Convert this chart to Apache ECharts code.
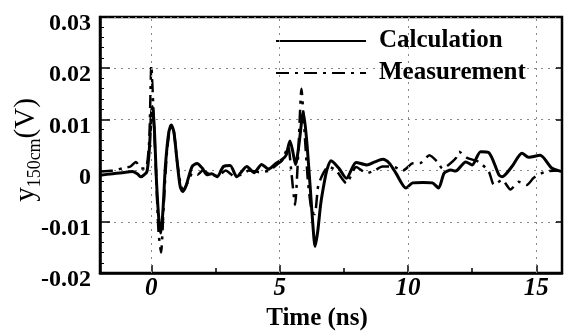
<!DOCTYPE html>
<html>
<head>
<meta charset="utf-8">
<script src="https://cdn.jsdelivr.net/npm/echarts@6/dist/echarts.min.js"></script>
<style>
  html, body { margin: 0; padding: 0; background: #fff; }
  #chart { width: 572px; height: 331px; }
</style>
</head>
<body>
<div id="chart"></div>
<script>
// Calculation (solid)
const calcTime = [-2.0, -1.5, -1.0, -0.75, -0.55, -0.42, -0.3, -0.17, -0.08, 0.0, 0.05, 0.12, 0.2, 0.3, 0.37, 0.45, 0.55, 0.68, 0.78, 0.88,
  1.0, 1.12, 1.22, 1.35, 1.59, 1.78, 1.98, 2.17, 2.35, 2.56, 2.81, 3.07, 3.33, 3.72, 4.0, 4.3, 4.56, 4.88, 5.1, 5.25,
  5.4, 5.5, 5.62, 5.75, 5.92, 6.05, 6.2, 6.3, 6.38, 6.48, 6.6, 6.75, 6.85, 7.0, 7.3, 7.6, 7.98, 8.4, 8.7, 9.02,
  9.28, 9.53, 9.92, 10.18, 10.6, 10.95, 11.19, 11.41, 11.67, 11.85, 12.25, 12.5, 12.83, 13.15, 13.54, 13.67, 14.05, 14.44, 14.7, 15.15,
  15.6, 16.0];
const calcValue = [-0.0009, -0.0006, -0.0003, -0.0002, -0.0006, -0.0012, -0.0009, -0.0002, 0.004, 0.011, 0.0125, 0.008, -0.002, -0.010, -0.0122, -0.008, 0.001, 0.0075, 0.0089, 0.0075,
  0.002, -0.003, -0.0041, -0.003, 0.0008, 0.0014, 0.0005, -0.0008, -0.0006, -0.0012, 0.0008, 0.001, -0.0012, 0.0008, -0.0004, 0.0012, 0.0003, 0.0015, 0.0022, 0.003,
  0.0058, 0.004, 0.0012, 0.005, 0.0115, 0.006, -0.004, -0.011, -0.0148, -0.012, -0.0065, -0.002, 0.0003, 0.0019, 0.0005, -0.0015, 0.0016, 0.0011, 0.0017, 0.0022,
  0.0014, -0.0005, -0.0034, -0.0024, -0.0023, -0.0024, -0.0034, -0.0005, 0.0001, -0.0001, 0.0017, 0.0011, 0.0037, 0.0035, -0.0008, -0.0012, 0.0008, 0.0034, 0.0026, 0.003,
  0.0005, -0.0002];

// Measurement (dash-dot)
const measTime = [-2.0, -1.5, -1.0, -0.81, -0.6, -0.4, -0.2, -0.08, 0.0, 0.08, 0.18, 0.28, 0.38, 0.48, 0.6, 0.75, 0.88, 1.0, 1.15, 1.25,
  1.4, 1.6, 1.8, 2.0, 2.3, 2.6, 2.9, 3.2, 3.5, 3.8, 4.2, 4.6, 4.9, 5.1, 5.33, 5.45, 5.53, 5.6, 5.72, 5.85,
  5.95, 6.1, 6.25, 6.37, 6.5, 6.7, 6.9, 7.2, 7.6, 7.98, 8.4, 8.7, 9.0, 9.4, 9.8, 10.17, 10.5, 10.83, 11.15, 11.34,
  11.6, 11.86, 11.99, 12.3, 12.76, 13.15, 13.35, 13.67, 13.99, 14.31, 14.63, 14.9, 15.35, 15.87];
const measValue = [-0.0002, 0.0, 0.0006, 0.0008, 0.0017, 0.0004, 0.0005, 0.006, 0.0205, 0.012, 0.0, -0.012, -0.016, -0.007, 0.003, 0.0088, 0.0075, 0.002, -0.003, -0.0038,
  -0.0025, -0.0005, -0.0008, 0.0, -0.0008, -0.001, 0.0, -0.001, -0.0008, 0.0, -0.0003, 0.0, 0.0012, 0.002, 0.0047, 0.0, -0.004, -0.0067, 0.003, 0.016,
  0.009, -0.002, -0.008, -0.0085, -0.003, -0.0005, 0.0008, 0.0, -0.0025, 0.0007, -0.0005, 0.0, 0.0008, 0.0008, 0.0, 0.0014, 0.0015, 0.003, 0.0017, 0.0004,
  0.0012, 0.0024, 0.0037, 0.0025, 0.0017, -0.0002, -0.0028, -0.0018, -0.0037, -0.0022, -0.0028, -0.0014, -0.0002, 0.0];

const xMajor = [0, 5, 10, 15];
const xMinor = [2.5, 7.5, 12.5];
const seriesNames = ['Calculation', 'Measurement'];

const serif = '"Liberation Serif", "Times New Roman", serif';
const zip = (a, b) => a.map((t, i) => [t, b[i]]);

const chart = echarts.init(document.getElementById('chart'), null, { renderer: 'canvas' });

const gridLine = { type: [2, 5], color: '#888', width: 1 };

chart.setOption({
  backgroundColor: '#fff',
  animation: false,
  grid: {
    left: 100, right: 10, top: 17, bottom: 58,
    outerBoundsMode: 'none', containLabel: false,
    show: true, borderColor: '#000', borderWidth: 2.5
  },
  legend: {
    orient: 'vertical', left: 270, top: 23, itemGap: 6,
    itemWidth: 90, itemHeight: 14,
    lineStyle: { width: 2 },
    itemStyle: { opacity: 0 },
    textStyle: { fontFamily: serif, fontWeight: 'bold', fontSize: 25, color: '#000', padding: [0, 0, 0, 8], lineHeight: 26 },
    data: seriesNames
  },
  xAxis: [{
    type: 'value', min: -2, max: 16,
    name: 'Time (ns)', nameLocation: 'middle', nameGap: 33,
    nameTextStyle: { fontFamily: serif, fontWeight: 'bold', fontSize: 25, color: '#000', padding: [0, 28, 0, 0] },
    axisLine: { onZero: false, lineStyle: { color: '#000', width: 2.5 } },
    axisTick: { inside: true, length: 8, customValues: xMajor, lineStyle: { color: '#000', width: 1.5 } },
    axisLabel: { customValues: xMajor, margin: 3, fontFamily: serif, fontWeight: 'bold', fontStyle: 'italic', fontSize: 25, color: '#000' },
    splitLine: { show: false }
  }, {
    type: 'value', min: -2, max: 16, position: 'bottom',
    axisLine: { show: false, onZero: false },
    axisTick: { inside: true, length: 5, customValues: xMinor, lineStyle: { color: '#000', width: 1.5 } },
    axisLabel: { show: false },
    splitLine: { show: false }
  }],
  yAxis: [{
    type: 'value', min: -0.02, max: 0.03, interval: 0.01,
    name: '{y|y}{s|150cm}{y|(V)}', nameLocation: 'middle', nameGap: 56, nameRotate: 90,
    nameMoveOverlap: false,
    nameTextStyle: {
      padding: [0, 10, 0, 0],
      rich: {
        y: { fontFamily: serif, fontSize: 29, color: '#000', lineHeight: 32, verticalAlign: 'top' },
        s: { fontFamily: serif, fontSize: 18, color: '#000', lineHeight: 18, verticalAlign: 'bottom' }
      }
    },
    axisLine: { onZero: false, lineStyle: { color: '#000', width: 2.5 } },
    axisTick: { inside: true, length: 10, lineStyle: { color: '#000', width: 1.5 } },
    minorTick: { show: true, splitNumber: 5, length: 4, lineStyle: { color: '#000', width: 1 } },
    axisLabel: {
      margin: 9, fontFamily: serif, fontWeight: 'bold', fontSize: 24, color: '#000',
      verticalAlign: 'top', lineHeight: 14,
      formatter: v => (Math.abs(v) < 1e-9 ? '0' : (Math.round(v * 100) / 100).toFixed(2))
    },
    splitLine: { show: true, lineStyle: gridLine }
  }, {
    type: 'value', min: -0.02, max: 0.03, interval: 0.01, position: 'right',
    axisLine: { show: false, onZero: false },
    axisTick: { inside: true, length: 6, lineStyle: { color: '#000', width: 1.5 } },
    axisLabel: { show: false },
    splitLine: { show: false }
  }],
  series: [{
    name: seriesNames[0], type: 'line', symbol: 'none', smooth: 0.25,
    data: zip(calcTime, calcValue),
    lineStyle: { color: '#000', width: 3 },
    itemStyle: { color: '#000' },
    z: 3,
    markLine: {
      silent: true, symbol: 'none', label: { show: false },
      lineStyle: gridLine,
      data: xMajor.map(v => ({ xAxis: v }))
    }
  }, {
    name: seriesNames[1], type: 'line', symbol: 'none', smooth: 0.2,
    data: zip(measTime, measValue),
    lineStyle: { color: '#000', width: 2.5, type: [13, 6, 3, 6] },
    itemStyle: { color: '#000' },
    z: 2
  }]
});
</script>
</body>
</html>
